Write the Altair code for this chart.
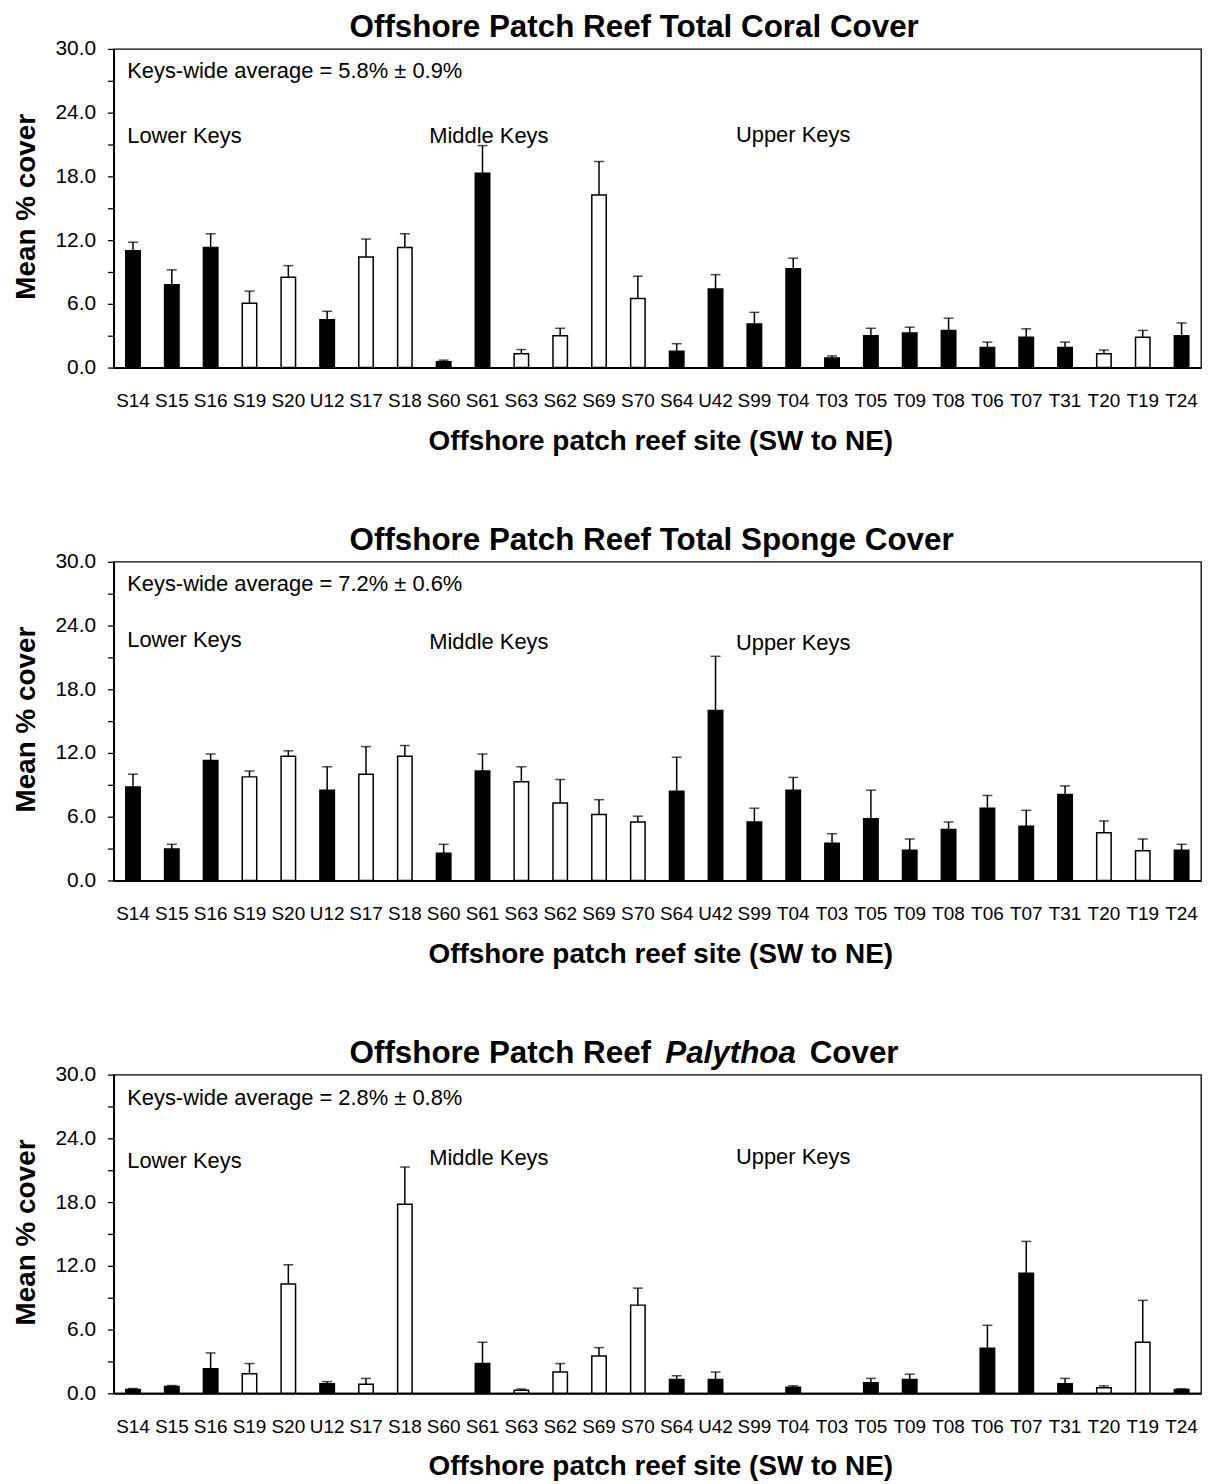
import altair as alt
import pandas as pd

FONT = "Liberation Sans"

sites = ["S14", "S15", "S16", "S19", "S20", "U12", "S17", "S18", "S60", "S61",
         "S63", "S62", "S69", "S70", "S64", "U42", "S99", "T04", "T03", "T05",
         "T09", "T08", "T06", "T07", "T31", "T20", "T19", "T24"]
white_sites = ["S19", "S20", "S17", "S18", "S63", "S62", "S69", "S70", "T20", "T19"]
fills = ["white" if s in white_sites else "black" for s in sites]

coral_mean = [11.0, 7.8, 11.3, 6.05, 8.5, 4.5, 10.4, 11.3, 0.55, 18.3, 1.3, 3.0, 16.25, 6.5,
              1.55, 7.4, 4.1, 9.3, 0.9, 3.0, 3.25, 3.5, 1.9, 2.85, 1.9, 1.3, 2.85, 3.0]
coral_se = [0.8, 1.4, 1.3, 1.15, 1.1, 0.8, 1.7, 1.3, 0.15, 2.6, 0.4, 0.7, 3.15, 2.1,
            0.7, 1.35, 1.1, 1.0, 0.2, 0.7, 0.55, 1.15, 0.5, 0.8, 0.5, 0.35, 0.65, 1.2]

sponge_mean = [8.8, 2.95, 11.3, 9.75, 11.7, 8.5, 10.0, 11.7, 2.55, 10.3, 9.3, 7.3, 6.2, 5.5,
               8.4, 16.0, 5.5, 8.5, 3.5, 5.8, 2.85, 4.8, 6.8, 5.1, 8.1, 4.5, 2.8, 2.85]
sponge_se = [1.2, 0.45, 0.6, 0.55, 0.5, 2.2, 2.6, 1.0, 0.85, 1.6, 1.4, 2.2, 1.4, 0.55,
             3.2, 5.1, 1.3, 1.2, 0.9, 2.7, 1.05, 0.7, 1.2, 1.5, 0.8, 1.1, 1.1, 0.55]

paly_mean = [0.35, 0.63, 2.3, 1.85, 10.3, 0.9, 0.85, 17.8, 0.0, 2.8, 0.28, 2.0, 3.5, 8.3,
             1.3, 1.3, 0.0, 0.56, 0.0, 1.0, 1.3, 0.0, 4.25, 11.3, 0.9, 0.53, 4.8, 0.35]
paly_se = [0.1, 0.1, 1.5, 0.95, 1.8, 0.2, 0.55, 3.5, 0.0, 2.0, 0.12, 0.8, 0.8, 1.6,
           0.35, 0.7, 0.0, 0.14, 0.0, 0.4, 0.5, 0.0, 2.15, 3.0, 0.5, 0.17, 3.95, 0.07]

averages = ["Keys-wide average = 5.8% \u00b1 0.9%",
            "Keys-wide average = 7.2% \u00b1 0.6%",
            "Keys-wide average = 2.8% \u00b1 0.8%"]
regions = ["Lower Keys", "Middle Keys", "Upper Keys"]
titles = [[("Offshore Patch Reef Total Coral Cover", "normal")],
          [("Offshore Patch Reef Total Sponge Cover", "normal")],
          [("Offshore Patch Reef", "normal"), ("Palythoa", "italic"), ("Cover", "normal")]]

y_ticks = [0, 3, 6, 9, 12, 15, 18, 21, 24, 27, 30]

W, H = 1092, 320

# annotation placement (pixels inside each plot)
avg_y = [29, 29.5, 30]
region_x = [13.7, 317, 625]
region_y = [[94.7, 94, 93.2], [85.5, 87.5, 88.5], [93.5, 91, 90]]
title_x = [[237], [237], [237, 554, 699]]


def panel(i, mean, se):
    df = pd.DataFrame({"site": sites, "mean": mean, "se": se, "fill": fills})
    df["upper"] = df["mean"] + df["se"]
    bars_df = df[df["mean"] > 0]
    err_df = df[df["se"] > 0]

    xscale = alt.Scale(domain=sites, paddingInner=0.628, paddingOuter=0.314)
    xaxis = alt.Axis(title="Offshore patch reef site (SW to NE)", labelAngle=0,
                     labelFontSize=19, labelPadding=39, labelBaseline="alphabetic",
                     ticks=False, tickSize=0, titleFontSize=28, titleFontWeight="bold",
                     titleX=549, titleY=82, titleBaseline="alphabetic", titleAlign="center",
                     domainWidth=2)
    yscale = alt.Scale(domain=[0, 30], nice=False, zero=True)
    yaxis = alt.Axis(title="Mean % cover", values=y_ticks,
                     labelExpr="datum.value % 6 == 0 ? format(datum.value, '.1f') : ''",
                     labelFontSize=21, labelPadding=12, tickSize=6, tickWidth=1.3,
                     titleFontSize=28, titleFontWeight="bold", titleAngle=270,
                     titleX=-79.7, titleY=158, titleBaseline="alphabetic", titleAlign="center",
                     domainWidth=2)

    x = alt.X("site:N", scale=xscale, axis=xaxis, sort=sites)
    bars = alt.Chart(bars_df).mark_bar(stroke="black", strokeWidth=1.5).encode(
        x=x,
        y=alt.Y("mean:Q", scale=yscale, axis=yaxis),
        fill=alt.Fill("fill:N", scale=None),
    )
    rules = alt.Chart(err_df).mark_rule(color="black", strokeWidth=1.5).encode(
        x=x,
        y=alt.Y("mean:Q", scale=yscale, axis=yaxis),
        y2="upper:Q",
    )
    caps = alt.Chart(err_df).mark_tick(color="black", thickness=1.5, size=10,
                                       orient="horizontal").encode(
        x=x,
        y=alt.Y("upper:Q", scale=yscale, axis=yaxis),
    )

    layers = [bars, rules, caps]

    avg = alt.Chart(pd.DataFrame({"t": [averages[i]]})).mark_text(
        align="left", baseline="alphabetic", font=FONT, fontSize=22, color="black"
    ).encode(x=alt.value(13.7), y=alt.value(avg_y[i]), text="t:N")
    layers.append(avg)

    for j, r in enumerate(regions):
        layers.append(
            alt.Chart(pd.DataFrame({"t": [r]})).mark_text(
                align="left", baseline="alphabetic", font=FONT, fontSize=22, color="black"
            ).encode(x=alt.value(region_x[j]), y=alt.value(region_y[i][j]), text="t:N")
        )

    for (txt, style), tx in zip(titles[i], title_x[i]):
        layers.append(
            alt.Chart(pd.DataFrame({"t": [txt]})).mark_text(
                align="left", baseline="alphabetic", font=FONT, fontSize=31.5,
                fontWeight="bold", fontStyle=style, color="black"
            ).encode(x=alt.value(tx), y=alt.value(-12), text="t:N")
        )

    return alt.layer(*layers).properties(width=W, height=H)


chart = alt.vconcat(
    panel(0, coral_mean, coral_se),
    panel(1, sponge_mean, sponge_se),
    panel(2, paly_mean, paly_se),
    spacing=195,
    bounds="flush",
).properties(
    padding={"left": 3, "top": 0, "right": 0, "bottom": 0},
    background="white",
).configure_view(
    stroke="black", strokeWidth=1.3
).configure_axis(
    grid=False, domainColor="black", tickColor="black", labelColor="black",
    titleColor="black", labelFont=FONT, titleFont=FONT
)

chart.save("out.html", embed_options={"renderer": "svg", "actions": False})
